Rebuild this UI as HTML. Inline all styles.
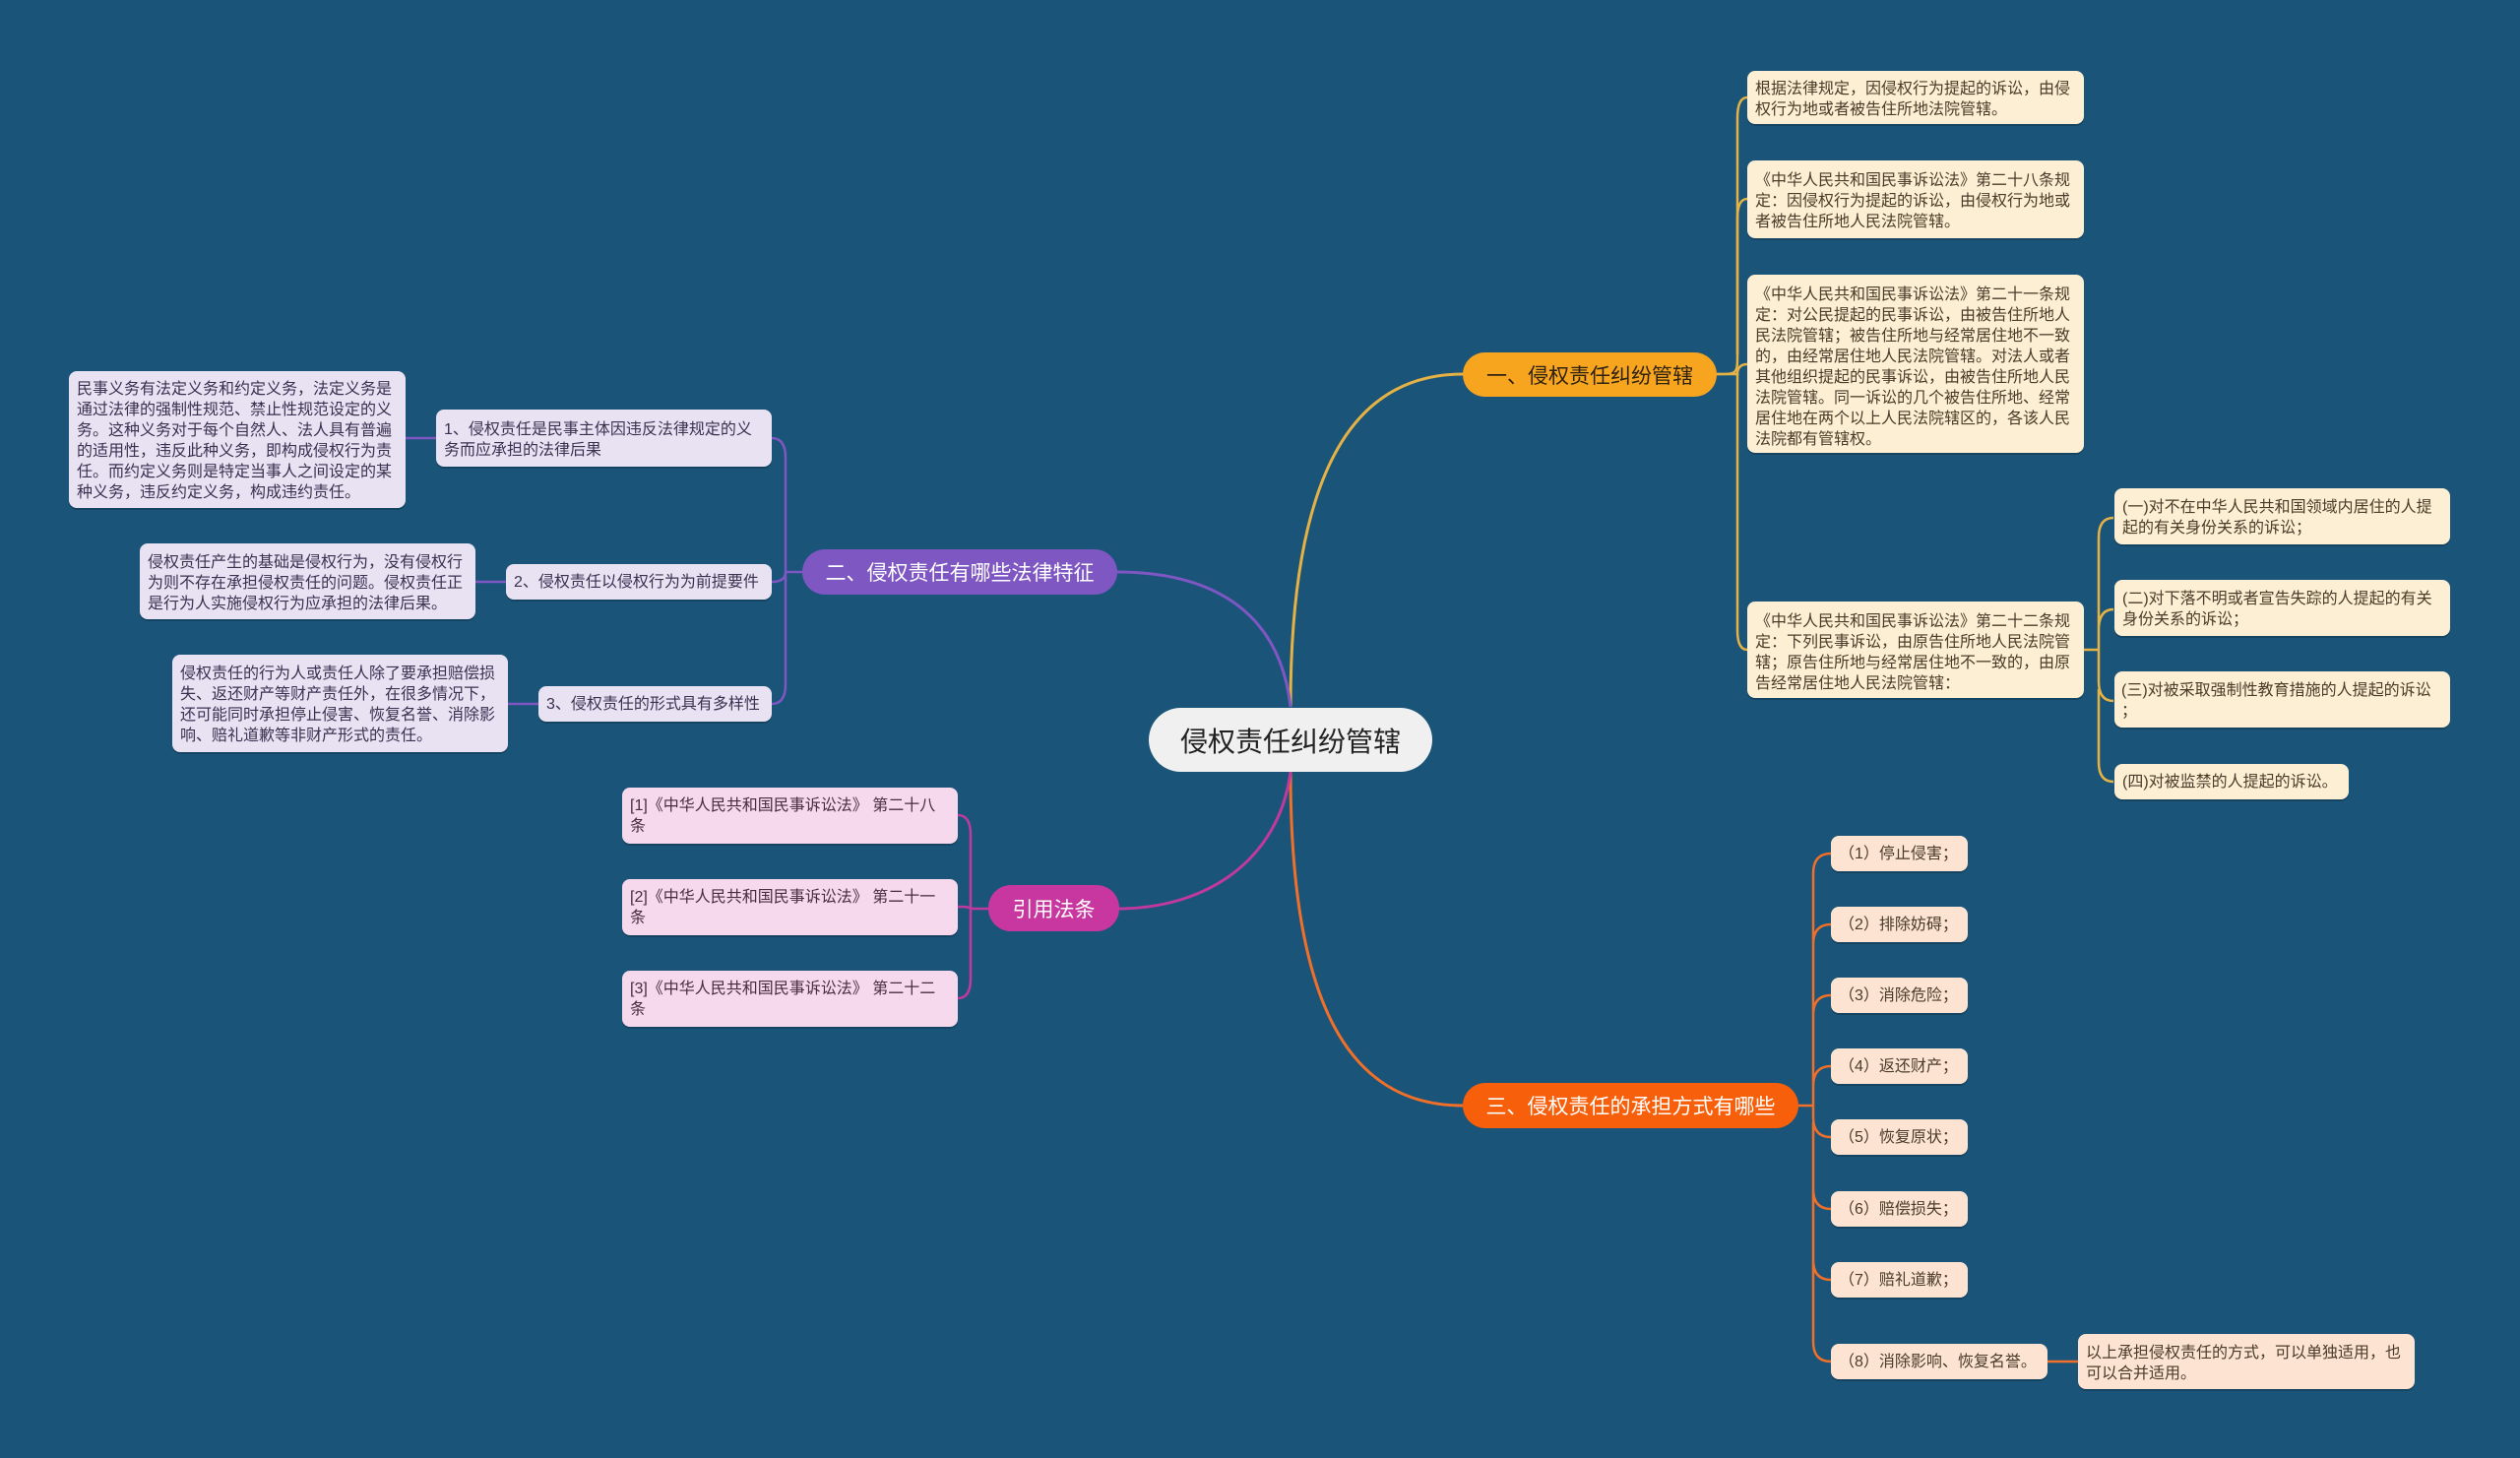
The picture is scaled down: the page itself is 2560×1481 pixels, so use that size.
<!DOCTYPE html>
<html><head><meta charset="utf-8"><style>
*{margin:0;padding:0;box-sizing:border-box}
body{width:2560px;height:1481px;background:#1a5479;position:relative;overflow:hidden;font-family:"Liberation Sans","Noto Sans CJK SC",sans-serif}
.n{position:absolute;border-radius:8px;font-size:16px;line-height:21px;padding:8px 8px 6px;color:#4a3b2a;box-shadow:0 2px 0 rgba(0,0,0,0.18)}
.y{background:#fdefd3}
.p{background:#e9e2f3;color:#3a3150}
.k{background:#f6d9ec;color:#4a2b40}
.o{background:#fde3d2}
.b{position:absolute;border-radius:23px;font-size:21px;color:#fff;display:flex;align-items:center;justify-content:center}
svg{position:absolute;left:0;top:0}
</style></head><body>
<svg width="2560" height="1481" fill="none" stroke-width="3">
<path d="M1311 718 C1311 470 1380 380 1486 380" stroke="#e5b245"/>
<path d="M1311 718 C1300 620 1230 581 1135 581" stroke="#7e57c2"/>
<path d="M1311 784 C1311 1020 1370 1123 1486 1123" stroke="#f0702a"/>
<path d="M1311 784 C1300 870 1230 923 1135 923" stroke="#c03a9e"/>
<g stroke="#e5b245" stroke-width="2.5">
<path d="M1744 380 C1765 380 1765 380 1765 360 L1765 120 Q1765 99 1775 99"/>
<path d="M1765 360 L1765 222 Q1765 202 1775 202"/>
<path d="M1744 380 L1765 380 Q1765 370 1775 370"/>
<path d="M1765 380 L1765 640 Q1765 660 1775 660"/>
<path d="M2117 660 L2132 660 M2132 660 L2132 546 Q2132 526 2147 526 M2132 640 Q2132 619 2147 619 M2132 660 L2132 692 Q2132 712 2147 712 M2132 700 L2132 774 Q2132 794 2147 794"/>
</g>
<g stroke="#f0702a" stroke-width="2.5">
<path d="M1827 1123 L1842 1123 M1842 1123 L1842 887 Q1842 867 1860 867 M1842 959 Q1842 939 1860 939 M1842 1031 Q1842 1011 1860 1011 M1842 1103 Q1842 1083 1860 1083 M1842 1123 L1842 1135 Q1842 1155 1860 1155 M1842 1140 L1842 1208 Q1842 1228 1860 1228 M1842 1200 L1842 1280 Q1842 1300 1860 1300 M1842 1280 L1842 1363 Q1842 1383 1860 1383"/>
<path d="M2080 1383 L2111 1383"/>
</g>
<g stroke="#7e57c2" stroke-width="2.5">
<path d="M815 581 L798 581 M798 581 L798 465 Q798 445 784 445 M798 581 Q798 591 784 591 M798 581 L798 695 Q798 715 784 715"/>
<path d="M443 445 L412 445 M514 591 L483 591 M547 715 L516 715"/>
</g>
<g stroke="#c03a9e" stroke-width="2.5">
<path d="M1004 923 L986 923 M986 923 L986 848 Q986 828 973 828 M986 923 Q986 921 973 921 M986 923 L986 994 Q986 1014 973 1014"/>
</g>
</svg>

<div class="b" style="left:1167px;top:719px;width:288px;height:65px;background:#f0f0f0;color:#222;font-size:28px;border-radius:33px">侵权责任纠纷管辖</div>
<div class="b" style="left:1486px;top:358px;width:258px;height:45px;background:#f7a51f;color:#2e2210">一、侵权责任纠纷管辖</div>
<div class="b" style="left:815px;top:558px;width:320px;height:46px;background:#7e57c2">二、侵权责任有哪些法律特征</div>
<div class="b" style="left:1004px;top:899px;width:133px;height:47px;background:#c8379f">引用法条</div>
<div class="b" style="left:1486px;top:1100px;width:341px;height:46px;background:#f75f0a">三、侵权责任的承担方式有哪些</div>

<div class="n y" style="left:1775px;top:72px;width:342px;height:54px">根据法律规定，因侵权行为提起的诉讼，由侵权行为地或者被告住所地法院管辖。</div>
<div class="n y" style="left:1775px;top:163px;width:342px;height:79px;padding-top:10px">《中华人民共和国民事诉讼法》第二十八条规定：因侵权行为提起的诉讼，由侵权行为地或者被告住所地人民法院管辖。</div>
<div class="n y" style="left:1775px;top:279px;width:342px;height:181px;padding-top:10px">《中华人民共和国民事诉讼法》第二十一条规定：对公民提起的民事诉讼，由被告住所地人民法院管辖；被告住所地与经常居住地不一致的，由经常居住地人民法院管辖。对法人或者其他组织提起的民事诉讼，由被告住所地人民法院管辖。同一诉讼的几个被告住所地、经常居住地在两个以上人民法院辖区的，各该人民法院都有管辖权。</div>
<div class="n y" style="left:1775px;top:611px;width:342px;height:98px;padding-top:10px">《中华人民共和国民事诉讼法》第二十二条规定：下列民事诉讼，由原告住所地人民法院管辖；原告住所地与经常居住地不一致的，由原告经常居住地人民法院管辖：</div>
<div class="n y" style="left:2148px;top:496px;width:341px;height:57px;padding-top:9px">(一)对不在中华人民共和国领域内居住的人提起的有关身份关系的诉讼；</div>
<div class="n y" style="left:2148px;top:589px;width:341px;height:57px;padding-top:9px">(二)对下落不明或者宣告失踪的人提起的有关身份关系的诉讼；</div>
<div class="n y" style="left:2148px;top:682px;width:341px;height:57px;padding:9px 2px 6px 7px">(三)对被采取强制性教育措施的人提起的诉讼<br>；</div>
<div class="n y" style="left:2148px;top:776px;width:238px;height:36px">(四)对被监禁的人提起的诉讼。</div>

<div class="n p" style="left:443px;top:416px;width:341px;height:58px;padding-top:10px">1、侵权责任是民事主体因违反法律规定的义务而应承担的法律后果</div>
<div class="n p" style="left:514px;top:573px;width:270px;height:36px">2、侵权责任以侵权行为为前提要件</div>
<div class="n p" style="left:547px;top:697px;width:237px;height:36px">3、侵权责任的形式具有多样性</div>
<div class="n p" style="left:70px;top:377px;width:342px;height:139px;padding-top:8px">民事义务有法定义务和约定义务，法定义务是通过法律的强制性规范、禁止性规范设定的义务。这种义务对于每个自然人、法人具有普遍的适用性，违反此种义务，即构成侵权行为责任。而约定义务则是特定当事人之间设定的某种义务，违反约定义务，构成违约责任。</div>
<div class="n p" style="left:142px;top:552px;width:341px;height:77px;padding-top:9px">侵权责任产生的基础是侵权行为，没有侵权行为则不存在承担侵权责任的问题。侵权责任正是行为人实施侵权行为应承担的法律后果。</div>
<div class="n p" style="left:175px;top:665px;width:341px;height:99px;padding-top:9px">侵权责任的行为人或责任人除了要承担赔偿损失、返还财产等财产责任外，在很多情况下，还可能同时承担停止侵害、恢复名誉、消除影响、赔礼道歉等非财产形式的责任。</div>

<div class="n k" style="left:632px;top:800px;width:341px;height:57px">[1]《中华人民共和国民事诉讼法》 第二十八条</div>
<div class="n k" style="left:632px;top:893px;width:341px;height:57px">[2]《中华人民共和国民事诉讼法》 第二十一条</div>
<div class="n k" style="left:632px;top:986px;width:341px;height:57px">[3]《中华人民共和国民事诉讼法》 第二十二条</div>

<div class="n o" style="left:1860px;top:849px;width:139px;height:36px">（1）停止侵害；</div>
<div class="n o" style="left:1860px;top:921px;width:139px;height:36px">（2）排除妨碍；</div>
<div class="n o" style="left:1860px;top:993px;width:139px;height:36px">（3）消除危险；</div>
<div class="n o" style="left:1860px;top:1065px;width:139px;height:36px">（4）返还财产；</div>
<div class="n o" style="left:1860px;top:1137px;width:139px;height:36px">（5）恢复原状；</div>
<div class="n o" style="left:1860px;top:1210px;width:139px;height:36px">（6）赔偿损失；</div>
<div class="n o" style="left:1860px;top:1282px;width:139px;height:36px">（7）赔礼道歉；</div>
<div class="n o" style="left:1860px;top:1365px;width:220px;height:36px">（8）消除影响、恢复名誉。</div>
<div class="n o" style="left:2111px;top:1355px;width:342px;height:56px;padding-top:9px">以上承担侵权责任的方式，可以单独适用，也可以合并适用。</div>
</body></html>
